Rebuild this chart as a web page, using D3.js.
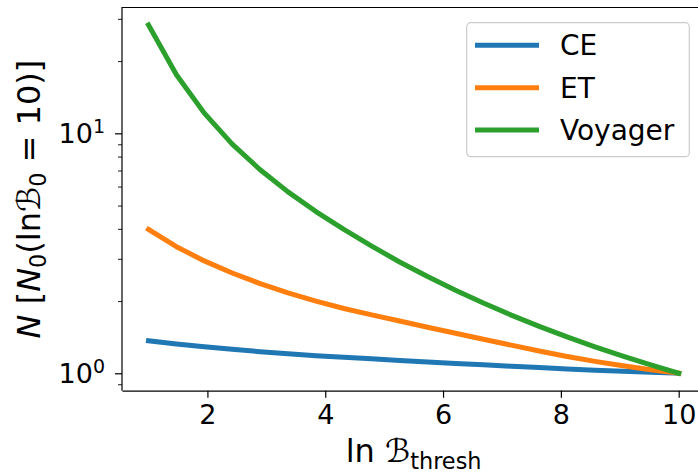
<!DOCTYPE html>
<html>
<head>
<meta charset="utf-8">
<script src="https://cdn.jsdelivr.net/npm/d3@7"></script>
<style>
  body { margin: 0; background: #fff; }
  svg text { font-family: "DejaVu Sans", sans-serif; fill: #000; }
</style>
</head>
<body>
<div id="container"></div>
<script>
// ln B_thresh steps
const thresholds = [1.000, 1.474, 1.947, 2.421, 2.895, 3.368, 3.842, 4.316, 4.789, 5.263,
                    5.737, 6.211, 6.684, 7.158, 7.632, 8.105, 8.579, 9.053, 9.526, 10.000];

// N relative to N0 at ln B = 10, one list per detector
const ceValues = [1.367, 1.324, 1.290, 1.258, 1.230, 1.207, 1.184, 1.167, 1.149, 1.131,
                  1.115, 1.099, 1.085, 1.070, 1.056, 1.043, 1.030, 1.019, 1.010, 1.000];
const etValues = [3.98, 3.37, 2.94, 2.617, 2.365, 2.162, 1.997, 1.862, 1.752, 1.651,
                  1.556, 1.469, 1.387, 1.310, 1.239, 1.175, 1.121, 1.074, 1.035, 1.000];
const voyagerValues = [28.3, 17.55, 12.14, 9.02, 7.05, 5.70, 4.72, 3.98, 3.39, 2.91,
                       2.53, 2.22, 1.962, 1.748, 1.569, 1.417, 1.288, 1.178, 1.083, 1.000];

const seriesNames = ["CE", "ET", "Voyager"];
const seriesColors = ["#1f77b4", "#ff7f0e", "#2ca02c"];

const xTicks = [2, 4, 6, 8, 10];
const yMajorTicks = [1, 10];
const yMinorTicks = [0.9, 2, 3, 4, 5, 6, 7, 8, 9, 20, 30];

let width = 698, height = 474;
// plot box (right edge runs past the page)
let margin = {left: 122, top: 7.5, right: 705.2, bottom: 390.7};

let svg = d3.select("#container")
  .append("svg")
    .attr("width", width)
    .attr("height", height);

// 5% padding on both axes, the log one in log space
let xExt = d3.extent(thresholds);
let xPad = (xExt[1] - xExt[0]) * 0.05;
let x = d3.scaleLinear()
  .domain([xExt[0] - xPad, xExt[1] + xPad])
  .range([margin.left, margin.right]);

let allVals = ceValues.concat(etValues, voyagerValues);
let lo = Math.log10(d3.min(allVals)), hi = Math.log10(d3.max(allVals));
let yPad = (hi - lo) * 0.05;
let y = d3.scaleLog()
  .domain([Math.pow(10, lo - yPad), Math.pow(10, hi + yPad)])
  .range([margin.bottom, margin.top]);

let series = [ceValues, etValues, voyagerValues];

let line = d3.line()
  .x(function(d, i) { return x(thresholds[i]); })
  .y(function(d) { return y(d); });

svg.append("g")
  .attr("class", "lines")
  .selectAll("path")
  .data(series)
  .enter().append("path")
    .attr("d", line)
    .attr("fill", "none")
    .attr("stroke", function(d, i) { return seriesColors[i]; })
    .attr("stroke-width", 5)
    .attr("stroke-linecap", "square")
    .attr("stroke-linejoin", "round");

// spines
svg.append("path")
  .attr("d", "M" + margin.left + "," + margin.bottom + "V" + margin.top + "H" + width)
  .attr("fill", "none")
  .attr("stroke", "#000")
  .attr("stroke-width", 1.2);

// x axis
let xAxis = svg.append("g")
  .attr("transform", "translate(0," + margin.bottom + ")")
  .call(d3.axisBottom(x).tickValues(xTicks).tickSize(7).tickSizeOuter(0).tickPadding(7)
    .tickFormat(d3.format("d")));
xAxis.select(".domain").attr("stroke-width", 1.2);
xAxis.selectAll(".tick line").attr("stroke-width", 1.2);
xAxis.selectAll("text").attr("font-size", 27).attr("font-family", "DejaVu Sans").attr("fill", "#000");

// y axis, minor then major
let yMinor = svg.append("g")
  .attr("transform", "translate(" + margin.left + ",0)")
  .call(d3.axisLeft(y).tickValues(yMinorTicks).tickSize(4).tickFormat(""));
yMinor.select(".domain").remove();
yMinor.selectAll(".tick line").attr("stroke-width", 0.9);

let yMajor = svg.append("g")
  .attr("transform", "translate(" + margin.left + ",0)")
  .call(d3.axisLeft(y).tickValues(yMajorTicks).tickSize(7).tickPadding(10).tickFormat(""));
yMajor.select(".domain").remove();
yMajor.selectAll(".tick line").attr("stroke-width", 1.2);

// 10^n labels with a raised exponent
yMajor.selectAll(".tick text")
  .attr("font-size", 27)
  .attr("font-family", "DejaVu Sans")
  .attr("fill", "#000")
  .attr("dy", "0.34em")
  .each(function(d) {
    let t = d3.select(this);
    t.append("tspan").text("10");
    t.append("tspan").text(Math.round(Math.log10(d)))
      .attr("font-size", 19)
      .attr("dy", "-0.55em");
  });

// axis labels
let xl = svg.append("text")
  .attr("x", (margin.left + margin.right) / 2)
  .attr("y", 462)
  .attr("text-anchor", "middle")
  .attr("font-size", 32);
xl.append("tspan").text("ln ");
xl.append("tspan").text("\u212C").attr("font-style", "italic");
xl.append("tspan").text("thresh").attr("font-size", 22.4).attr("dy", 7);

let yl = svg.append("text")
  .attr("transform", "translate(40," + ((margin.top + margin.bottom) / 2) + ") rotate(-90)")
  .attr("text-anchor", "middle")
  .attr("font-size", 32);
yl.append("tspan").text("N").attr("font-style", "italic");
yl.append("tspan").text(" [");
yl.append("tspan").text("N").attr("font-style", "italic");
yl.append("tspan").text("0").attr("font-size", 22.4).attr("dy", 6);
yl.append("tspan").text("(ln").attr("dy", -6);
yl.append("tspan").text("\u212C").attr("font-style", "italic");
yl.append("tspan").text("0").attr("font-size", 22.4).attr("dy", 6);
yl.append("tspan").text(" = 10)]").attr("dy", -6);

// legend
let legend = svg.append("g")
  .attr("class", "legend")
  .attr("transform", "translate(466.7,22.7)");

legend.append("rect")
  .attr("width", 222.6)
  .attr("height", 134)
  .attr("rx", 4)
  .attr("fill", "#fff")
  .attr("fill-opacity", 0.8)
  .attr("stroke", "#cccccc")
  .attr("stroke-width", 1.2);

let items = legend.selectAll(".item")
  .data(seriesNames)
  .enter().append("g")
    .attr("class", "item")
    .attr("transform", function(d, i) { return "translate(0," + (22.6 + i * 42.35) + ")"; });

items.append("line")
  .attr("x1", 8.3).attr("x2", 72.3)
  .attr("stroke", function(d, i) { return seriesColors[i]; })
  .attr("stroke-width", 5);

items.append("text")
  .attr("x", 93.3)
  .attr("dy", "0.36em")
  .attr("font-size", 28)
  .text(function(d) { return d; });
</script>
</body>
</html>
